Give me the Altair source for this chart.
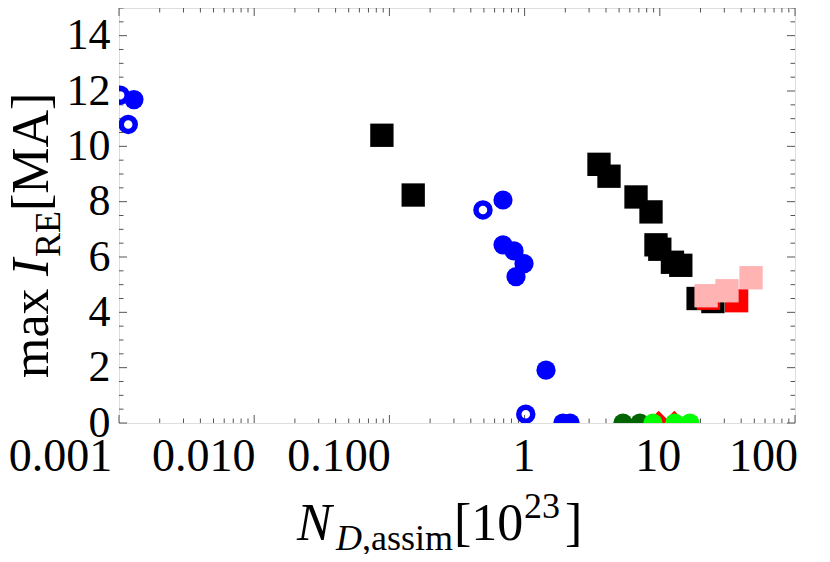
import altair as alt
import pandas as pd

# ---- data ----
blue_filled_x = [0.00129, 0.692, 0.692, 0.835, 0.99, 0.864, 1.44, 1.92, 2.17]
blue_filled_y = [11.69, 8.06, 6.44, 6.22, 5.76, 5.29, 1.91, 0.0, 0.0]
blue_open_x = [0.00102, 0.00117, 0.492, 1.02]
blue_open_y = [11.85, 10.79, 7.70, 0.32]
black_x = [0.088, 0.150, 3.55, 4.21, 6.67, 8.61, 9.37, 10.0, 12.4, 14.3, 19.2, 24.7]
black_y = [10.40, 8.24, 9.35, 8.92, 8.17, 7.63, 6.44, 6.28, 5.81, 5.70, 4.50, 4.39]
red_sq_x = [22.9, 37.0]
red_sq_y = [4.51, 4.42]
red_dm_x = [9.8, 12.8]
red_dm_y = [0.0, 0.0]
pink_x = [22.0, 31.4, 47.3]
pink_y = [4.60, 4.78, 5.25]
dgreen_x = [5.34, 7.13]
dgreen_y = [0.0, 0.0]
green_x = [8.9, 12.9, 16.7]
green_y = [0.0, 0.0, 0.0]

x_major = [0.001, 0.01, 0.1, 1, 10, 100]
x_minor = [m * d for d in [0.001, 0.01, 0.1, 1, 10] for m in range(2, 10)]
y_major = [0, 2, 4, 6, 8, 10, 12, 14]
y_minor = [v / 2 for v in range(0, 31) if v % 4 != 0]

W, H = 676, 415
FONT = "Liberation Serif"

xscale = alt.Scale(type="log", domain=[0.001, 100], nice=False)
yscale = alt.Scale(domain=[0, 15], nice=False, zero=False)

xaxis = alt.Axis(
    values=x_major, title=None, ticks=False, domain=False, grid=False,
    labelFont=FONT, labelFontSize=46, labelColor="black", labelPadding=11,
    labelFlush=False, labelOverlap=False,
    labelExpr="datum.value < 0.005 ? '0.001' : datum.value < 0.05 ? '0.010' : datum.value < 0.5 ? '0.100' : format(datum.value, 'd')",
    labelOffset={"condition": [
        {"test": "datum.value < 0.005", "value": -59},
        {"test": "datum.value < 0.5", "value": -51},
        {"test": "datum.value > 50", "value": -32},
        {"test": "datum.value > 5", "value": -2},
    ], "value": -1},
)
yaxis = alt.Axis(
    values=y_major, title=None, ticks=False, domain=False, grid=False,
    labelFont=FONT, labelFontSize=44, labelColor="black", labelPadding=9,
    labelFlush=False, labelOverlap=False,
)

X = alt.X("x:Q", scale=xscale, axis=xaxis)
Y = alt.Y("y:Q", scale=yscale, axis=yaxis)


def pts(xs, ys):
    return pd.DataFrame({"x": xs, "y": ys})


layers = []

# tick marks (inward, Mathematica frame style)
TC = "#555555"
xmaj = pd.DataFrame({"x": x_major})
xmin = pd.DataFrame({"x": x_minor})
ymaj = pd.DataFrame({"y": y_major})
ymin = pd.DataFrame({"y": y_minor})
for df, L in [(xmaj, 8), (xmin, 4.5)]:
    layers.append(alt.Chart(df).mark_rule(color=TC, strokeWidth=1).encode(
        x=X, y=alt.value(H), y2=alt.value(H - L)))
    layers.append(alt.Chart(df).mark_rule(color=TC, strokeWidth=1).encode(
        x=X, y=alt.value(0), y2=alt.value(L)))
for df, L in [(ymaj, 8), (ymin, 4.5)]:
    layers.append(alt.Chart(df).mark_rule(color=TC, strokeWidth=1).encode(
        y=Y, x=alt.value(0), x2=alt.value(L)))
    layers.append(alt.Chart(df).mark_rule(color=TC, strokeWidth=1).encode(
        y=Y, x=alt.value(W), x2=alt.value(W - L)))

CIRC = 370
SQ = 544
layers.append(alt.Chart(pts(blue_filled_x, blue_filled_y)).mark_point(
    shape="circle", filled=True, color="#0000ff", size=CIRC, opacity=1, clip=True).encode(x=X, y=Y))
layers.append(alt.Chart(pts(blue_open_x, blue_open_y)).mark_point(
    shape="circle", filled=False, color="#0000ff", size=196, strokeWidth=5.5, opacity=1, clip=True).encode(x=X, y=Y))
layers.append(alt.Chart(pts(black_x, black_y)).mark_point(
    shape="square", filled=True, color="#000000", size=SQ, opacity=1, clip=True).encode(x=X, y=Y))
layers.append(alt.Chart(pts(red_sq_x, red_sq_y)).mark_point(
    shape="square", filled=True, color="#ff0000", size=SQ, opacity=1, clip=True).encode(x=X, y=Y))
layers.append(alt.Chart(pts(red_dm_x, red_dm_y)).mark_point(
    shape="diamond", filled=True, color="#ff0000", size=600, opacity=1, clip=True).encode(x=X, y=Y))
layers.append(alt.Chart(pts(pink_x, pink_y)).mark_point(
    shape="square", filled=True, color="#ffb3b3", size=SQ, opacity=1, clip=True).encode(x=X, y=Y))
layers.append(alt.Chart(pts(dgreen_x, dgreen_y)).mark_point(
    shape="circle", filled=True, color="#006400", size=CIRC, opacity=1, clip=True).encode(x=X, y=Y))
layers.append(alt.Chart(pts(green_x, green_y)).mark_point(
    shape="circle", filled=True, color="#00ff00", size=CIRC, opacity=1, clip=True).encode(x=X, y=Y))

# axis titles composed of pieces (sub/superscripts)
one = pd.DataFrame({"a": [0]})
OX, OY = 119, 8  # plot origin on the page
TS, SS = 52, 36


def piece(text, px, py, size, style="normal", angle=0):
    return alt.Chart(one).mark_text(
        text=text, font=FONT, fontSize=size, fontStyle=style, angle=angle,
        align="left", baseline="alphabetic", color="black").encode(
        x=alt.value(px - OX), y=alt.value(py - OY))

# x title: N_{D,assim}[10^{23}]
layers += [
    piece("N", 297, 540, TS, "italic"),
    piece("D", 336, 550, SS, "italic"),
    piece(",assim", 362, 550, SS),
    piece("[10", 454, 540, TS),
    piece("23", 524, 518, SS),
    piece("]", 565, 540, TS),
]
# y title: max I_RE[MA]   (rotated, reading upward)
layers += [
    piece("max", 48, 378, TS, angle=270),
    piece("I", 48, 276, TS, "italic", angle=270),
    piece("RE", 60, 257, SS, angle=270),
    piece("[MA]", 48, 211, TS, angle=270),
]

chart = alt.layer(*layers).properties(
    width=W, height=H,
    autosize=alt.AutoSizeParams(type="none"),
    padding={"left": OX - 8, "top": OY - 8, "right": 5, "bottom": 131},
).configure_view(stroke="#9a9a9a", strokeWidth=1.5).configure(background="white")

chart.save("out.html", embed_options={"renderer": "svg", "actions": False})
